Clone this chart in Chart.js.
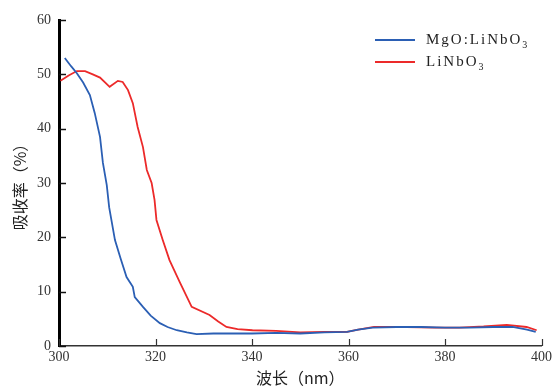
<!DOCTYPE html>
<html>
<head>
<meta charset="utf-8">
<script src="https://cdn.jsdelivr.net/npm/chart.js@4"></script>
<style>
html,body{margin:0;padding:0;background:#fff;}
#wrap{width:555px;height:389px;position:relative;}
</style>
</head>
<body>
<div id="wrap"><canvas id="c" width="555" height="389"></canvas></div>
<script>
// ---- data ----
const xTickValues = [300, 320, 340, 360, 380, 400];
const yTickValues = [0, 10, 20, 30, 40, 50, 60];
const seriesNames = ['MgO:LiNbO', 'LiNbO'];
const seriesSub = ['3', '3'];
const mgoX = [301.2,302.5,303.7,305,306.4,307.4,308.5,309.1,309.9,310.4,311.6,312.8,314.0,315.3,315.7,317.4,319,320.9,322.5,324.4,326.5,328.5,332,336,340,345,350,355,359.7,362,365,370,375,380,385,390,394,397,398.8];
const mgoY = [53.0,51.5,50.2,48.5,46.2,42.9,38.5,33.7,29.6,25.5,19.5,16.0,12.7,10.9,9.0,7.2,5.6,4.2,3.5,2.9,2.5,2.2,2.3,2.3,2.3,2.4,2.3,2.5,2.6,3.0,3.4,3.5,3.5,3.4,3.4,3.5,3.5,3.0,2.6];
const lnX = [300.3,302,303.7,305.4,307,308.5,310.5,312.2,313.2,314.3,315.3,316.3,317.4,318.2,319.2,319.8,320.2,321.5,322.9,325,327.5,331.2,333,334.7,337,340.1,345,350,355,359.7,362,365.3,372,378,383,388,392.8,396.9,399];
const lnY = [48.8,49.8,50.6,50.6,50.0,49.4,47.7,48.8,48.6,47.1,44.7,40.3,36.6,32.4,30.0,26.9,23.2,19.5,15.8,11.8,7.2,5.7,4.5,3.5,3.1,2.9,2.8,2.5,2.6,2.6,3.0,3.5,3.5,3.4,3.4,3.6,3.9,3.5,2.9];
const seriesColors = ['#2b5fb4', '#ec2a2a'];
const xTitle = '波长（nm）';
const yTitle = '吸收率（%）';

const toPts = (xs, ys) => xs.map((x, i) => ({x: x, y: ys[i]}));

const serif = "'Liberation Serif','DejaVu Serif',serif";
const cjk = "'Noto Sans CJK SC','Noto Sans',sans-serif";

const insideTicks = {
  id: 'insideTicks',
  afterDraw(chart) {
    const ctx = chart.ctx, xs = chart.scales.x, ys = chart.scales.y;
    const a = chart.chartArea;
    ctx.save();
    ctx.strokeStyle = '#111';
    ctx.lineWidth = 1.5;
    ys.ticks.forEach(t => {
      const py = Math.round(ys.getPixelForValue(t.value)) + 0.5;
      ctx.beginPath(); ctx.moveTo(a.left, py); ctx.lineTo(a.left + 7, py); ctx.stroke();
    });
    ctx.lineWidth = 1.2;
    ctx.strokeStyle = '#333';
    xs.ticks.forEach(t => {
      const px = Math.round(xs.getPixelForValue(t.value)) + 0.5;
      ctx.beginPath(); ctx.moveTo(px, a.bottom); ctx.lineTo(px, a.bottom - 7); ctx.stroke();
    });
    // legend
    const lx = 375, ly0 = 40, dy = 22;
    chart.data.datasets.forEach((ds, i) => {
      const y = ly0 + i * dy;
      ctx.strokeStyle = ds.borderColor;
      ctx.lineWidth = 2;
      ctx.beginPath(); ctx.moveTo(lx, y); ctx.lineTo(lx + 40, y); ctx.stroke();
      ctx.fillStyle = '#222';
      ctx.textBaseline = 'middle';
      ctx.textAlign = 'left';
      ctx.letterSpacing = '2px';
      ctx.font = '15px ' + serif;
      ctx.fillText(seriesNames[i], lx + 51, y);
      const w = ctx.measureText(seriesNames[i]).width;
      ctx.font = '10px ' + serif;
      ctx.fillText(seriesSub[i], lx + 51 + w, y + 5);
      ctx.letterSpacing = '0px';
    });
    ctx.restore();
  }
};

new Chart(document.getElementById('c'), {
  type: 'line',
  data: {
    datasets: [
      {label: seriesNames[0] + seriesSub[0], data: toPts(mgoX, mgoY), borderColor: seriesColors[0], borderWidth: 1.8, pointRadius: 0, tension: 0, fill: false},
      {label: seriesNames[1] + seriesSub[1], data: toPts(lnX, lnY), borderColor: seriesColors[1], borderWidth: 1.8, pointRadius: 0, tension: 0, fill: false}
    ]
  },
  options: {
    responsive: false,
    animation: false,
    layout: {padding: {left: 0, right: 12, top: 20, bottom: 0}},
    plugins: {legend: {display: false}, tooltip: {enabled: false}},
    scales: {
      x: {
        type: 'linear', min: 300, max: 400,
        afterBuildTicks: s => { s.ticks = xTickValues.map(v => ({value: v})); },
        afterFit: s => { s.height = 43; },
        grid: {display: true, drawOnChartArea: false, drawTicks: false},
        border: {display: true, color: '#333', width: 1.5},
        ticks: {maxRotation: 0, padding: 3, color: '#333', font: {family: serif, size: 14}},
        title: {display: true, text: xTitle, color: '#222', font: {family: cjk, size: 16}, padding: {top: 0, bottom: 1}}
      },
      y: {
        type: 'linear', min: 0, max: 60,
        afterBuildTicks: s => { s.ticks = yTickValues.map(v => ({value: v})); },
        afterFit: s => { s.width = 59; },
        grid: {display: true, drawOnChartArea: false, drawTicks: false},
        border: {display: true, color: '#000', width: 3},
        ticks: {padding: 8, color: '#333', font: {family: serif, size: 14}},
        title: {display: true, text: yTitle, color: '#222', font: {family: cjk, size: 16}, padding: {top: 10, bottom: 0}}
      }
    }
  },
  plugins: [insideTicks]
});
</script>
</body>
</html>
